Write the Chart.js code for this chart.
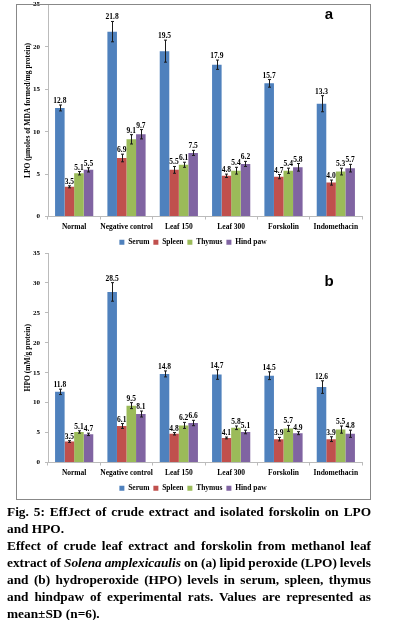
<!DOCTYPE html>
<html><head><meta charset="utf-8">
<script src="https://cdn.jsdelivr.net/npm/chart.js@4"></script>
<style>
html,body{margin:0;padding:0;background:#fff;width:394px;height:620px;overflow:hidden;position:relative}
#box{position:absolute;left:16px;top:4px;width:355px;height:496px;box-sizing:border-box;border:1px solid #888;pointer-events:none;z-index:2}
canvas{position:absolute;left:17px}
#ca{top:0}
#cb{top:248px}
#cap{position:absolute;left:7px;top:503px;width:364px;font-family:"Liberation Serif","Times New Roman",serif;font-weight:bold;font-size:13.33px;line-height:17px;color:#000}
#cap div{white-space:nowrap}
</style></head>
<body>
<div id="box"></div>
<canvas id="ca" width="352" height="256"></canvas>
<canvas id="cb" width="352" height="254"></canvas>
<div id="cap">
<div class="j"><span>Fig. 5: EffJect of crude extract and isolated forskolin on LPO</span></div>
<div><span>and HPO.</span></div>
<div class="j"><span>Effect of crude leaf extract and forskolin from methanol leaf</span></div>
<div class="j"><span>extract of <i>Solena amplexicaulis</i> on (a) lipid peroxide (LPO) levels</span></div>
<div class="j"><span>and (b) hydroperoxide (HPO) levels in serum, spleen, thymus</span></div>
<div class="j"><span>and hindpaw of experimental rats. Values are represented as</span></div>
<div><span>mean±SD (n=6).</span></div>
</div>
<script>
const categories = ['Normal','Negative control','Leaf 150','Leaf 300','Forskolin','Indomethacin'];
const seriesNames = ['Serum','Spleen','Thymus','Hind paw'];
const seriesColors = ['#4F81BD','#C0504D','#9BBB59','#8064A2'];

// (a) LPO
const lpoSerum   = [12.8, 21.8, 19.5, 17.9, 15.7, 13.3];
const lpoSpleen  = [3.5, 6.9, 5.5, 4.8, 4.7, 4.0];
const lpoThymus  = [5.1, 9.1, 6.1, 5.4, 5.4, 5.3];
const lpoHindpaw = [5.5, 9.7, 7.5, 6.2, 5.8, 5.7];
const lpoSerumSD   = [0.35, 1.2, 1.3, 0.55, 0.45, 0.95];
const lpoSpleenSD  = [0.12, 0.45, 0.4, 0.2, 0.25, 0.3];
const lpoThymusSD  = [0.2, 0.55, 0.3, 0.4, 0.3, 0.4];
const lpoHindpawSD = [0.25, 0.55, 0.3, 0.3, 0.45, 0.45];
const lpoTicks = [0, 5, 10, 15, 20, 25];

// (b) HPO
const hpoSerum   = [11.8, 28.5, 14.8, 14.7, 14.5, 12.6];
const hpoSpleen  = [3.5, 6.1, 4.8, 4.1, 3.9, 3.9];
const hpoThymus  = [5.1, 9.5, 6.2, 5.8, 5.7, 5.5];
const hpoHindpaw = [4.7, 8.1, 6.6, 5.1, 4.9, 4.8];
const hpoSerumSD   = [0.45, 1.55, 0.5, 0.8, 0.65, 1.05];
const hpoSpleenSD  = [0.15, 0.4, 0.2, 0.15, 0.3, 0.4];
const hpoThymusSD  = [0.2, 0.5, 0.5, 0.3, 0.5, 0.6];
const hpoHindpawSD = [0.2, 0.5, 0.45, 0.3, 0.25, 0.6];
const hpoTicks = [0, 5, 10, 15, 20, 25, 30, 35];

const SERIF = '"Liberation Serif","Times New Roman",serif';
const SANS = '"Liberation Sans",Arial,sans-serif';

// justify caption lines to the full width
const CAP_W = 364;
document.querySelectorAll('#cap .j span').forEach(sp => {
  const w = sp.getBoundingClientRect().width;
  const n = (sp.textContent.match(/ /g) || []).length;
  if (n) sp.style.wordSpacing = ((CAP_W - w) / n).toFixed(2) + 'px';
});

const errorBarsAndLabels = {
  id: 'errorBarsAndLabels',
  afterDatasetsDraw(chart) {
    const ctx = chart.ctx, ys = chart.scales.y;
    ctx.save();
    ctx.strokeStyle = '#1a1a1a';
    ctx.lineWidth = 1;
    const tops = [];
    chart.data.datasets.forEach((ds, i) => {
      const meta = chart.getDatasetMeta(i);
      meta.data.forEach((bar, j) => {
        const v = ds.data[j], e = ds.sd[j];
        const x = Math.round(bar.x) + 0.5;
        const t = ys.getPixelForValue(v + e), b = ys.getPixelForValue(v - e);
        ctx.beginPath();
        ctx.moveTo(x, t); ctx.lineTo(x, b);
        ctx.moveTo(x - 1.5, t); ctx.lineTo(x + 1.5, t);
        ctx.moveTo(x - 1.5, b); ctx.lineTo(x + 1.5, b);
        ctx.stroke();
        tops.push([bar.x, t, v]);
      });
    });
    ctx.fillStyle = '#000';
    ctx.font = 'bold 7.5px ' + SERIF;
    ctx.textAlign = 'center';
    ctx.textBaseline = 'alphabetic';
    tops.forEach(([x, t, v]) => ctx.fillText(v.toFixed(1), x, t - 2));
    ctx.restore();
  }
};

const panelLetter = {
  id: 'panelLetter',
  afterDraw(chart, args, opts) {
    const ctx = chart.ctx, a = chart.chartArea;
    ctx.save();
    ctx.fillStyle = '#000';
    ctx.font = 'bold 15px ' + SANS;
    ctx.textAlign = 'center';
    ctx.textBaseline = 'middle';
    ctx.fillText(opts.text, a.right - 33, a.top + opts.dy);
    ctx.restore();
  }
};

function makeChart(id, values, sds, ticks, yTitle, letter, letterDy, padTop) {
  return new Chart(document.getElementById(id), {
    type: 'bar',
    data: {
      labels: categories,
      datasets: seriesNames.map((n, i) => ({
        label: n, data: values[i], sd: sds[i],
        backgroundColor: seriesColors[i], borderWidth: 0,
        categoryPercentage: 0.73, barPercentage: 1.0
      }))
    },
    options: {
      responsive: false, animation: false, devicePixelRatio: 1,
      layout: { padding: { left: 7, right: 7, top: 0, bottom: 0 } },
      plugins: {
        legend: {
          position: 'bottom',
          labels: { boxWidth: 5, boxHeight: 5, padding: 4, color: '#000',
                    font: { family: SERIF, size: 7.5, weight: 'bold' } }
        },
        tooltip: { enabled: false },
        panelLetter: { text: letter, dy: letterDy }
      },
      scales: {
        x: {
          grid: { display: true, drawOnChartArea: false, drawTicks: true, tickLength: 3, color: '#bbb', offset: true },
          border: { display: true, color: '#bbb' },
          ticks: { color: '#000', padding: 3, maxRotation: 0, autoSkip: false,
                   font: { family: SERIF, size: 7.5, weight: 'bold' } },
          afterFit(s) { s.height = 18; s.paddingLeft = 0; s.paddingRight = 0; }
        },
        y: {
          min: ticks[0], max: ticks[ticks.length - 1],
          afterBuildTicks(s) { s.ticks = ticks.map(v => ({ value: v })); },
          grid: { drawOnChartArea: false, tickLength: 3, color: '#bbb' },
          border: { color: '#bbb' },
          ticks: { color: '#000', padding: 5, font: { family: SERIF, size: 7, weight: 'bold' } },
          title: { display: true, text: yTitle, color: '#000', padding: 0,
                   font: { family: SERIF, size: 7.5, weight: 'bold' } },
          afterFit(s) { s.width = 24; s.paddingTop = padTop; s.paddingBottom = 0; }
        }
      }
    },
    plugins: [errorBarsAndLabels, panelLetter]
  });
}

makeChart('ca',
  [lpoSerum, lpoSpleen, lpoThymus, lpoHindpaw],
  [lpoSerumSD, lpoSpleenSD, lpoThymusSD, lpoHindpawSD],
  lpoTicks, 'LPO (µmoles of MDA formed/mg protein)', 'a', 10, 4.5);

makeChart('cb',
  [hpoSerum, hpoSpleen, hpoThymus, hpoHindpaw],
  [hpoSerumSD, hpoSpleenSD, hpoThymusSD, hpoHindpawSD],
  hpoTicks, 'HPO (mM/g protein)', 'b', 29, 5);
</script>
</body></html>
